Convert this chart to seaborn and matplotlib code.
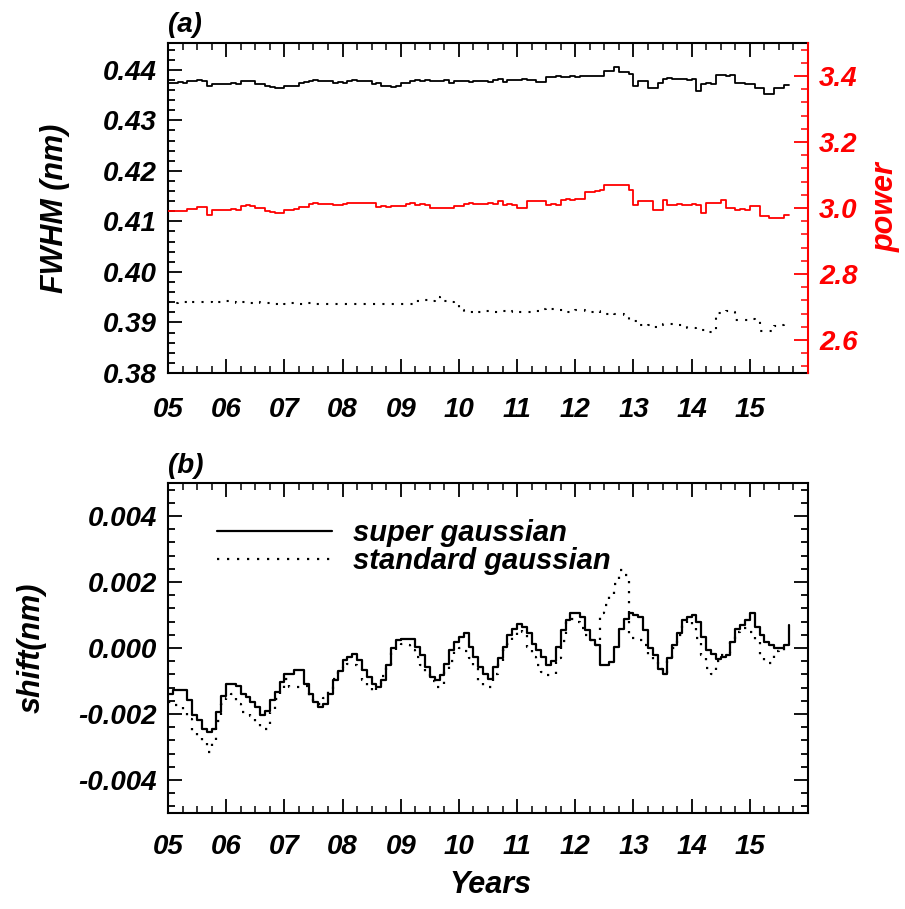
import numpy as np
import pandas as pd
import matplotlib
matplotlib.use("Agg")
import matplotlib.pyplot as plt
import seaborn as sns
from matplotlib.ticker import MultipleLocator

# ---------------- data (monthly, starting Jan 2005) ----------------
start_year = 2005

fwhm_super = [
    0.4374, 0.4374, 0.4375, 0.4374, 0.4378, 0.4378, 0.4379, 0.4378, 0.4367, 0.4372, 0.4372, 0.4372,
    0.4372, 0.4373, 0.4372, 0.4377, 0.4378, 0.4377, 0.4372, 0.4371, 0.4367, 0.4366, 0.4364, 0.4363,
    0.4367, 0.4368, 0.4367, 0.4374, 0.4375, 0.4378, 0.4379, 0.4378, 0.4377, 0.4378, 0.4374, 0.4375,
    0.4374, 0.4378, 0.4379, 0.4378, 0.4377, 0.4378, 0.4372, 0.4373, 0.4367, 0.4368, 0.4366, 0.4367,
    0.4374, 0.4373, 0.4378, 0.4379, 0.4378, 0.4380, 0.4378, 0.4377, 0.4378, 0.4379, 0.4374, 0.4377,
    0.4377, 0.4378, 0.4376, 0.4377, 0.4378, 0.4377, 0.4376, 0.4380, 0.4381, 0.4376, 0.4380, 0.4379,
    0.4380, 0.4381, 0.4380, 0.4379, 0.4376, 0.4375, 0.4385, 0.4386, 0.4387, 0.4385, 0.4386, 0.4387,
    0.4386, 0.4387, 0.4388, 0.4387, 0.4387, 0.4388, 0.4397, 0.4397, 0.4405, 0.4395, 0.4395, 0.4392,
    0.4367, 0.4378, 0.4377, 0.4364, 0.4364, 0.4374, 0.4382, 0.4383, 0.4382, 0.4381, 0.4382, 0.4380,
    0.4382, 0.4359, 0.4372, 0.4373, 0.4372, 0.4389, 0.4390, 0.4388, 0.4389, 0.4374, 0.4374, 0.4371,
    0.4371, 0.4364, 0.4364, 0.4352, 0.4352, 0.4364, 0.4364, 0.4369, 0.4369,
]

fwhm_standard = [
    0.3940, 0.3939, 0.3941, 0.3940, 0.3938, 0.3940, 0.3941, 0.3940, 0.3941, 0.3942, 0.3940, 0.3941,
    0.3942, 0.3940, 0.3939, 0.3940, 0.3941, 0.3939, 0.3940, 0.3939, 0.3938, 0.3938, 0.3937, 0.3938,
    0.3937, 0.3938, 0.3938, 0.3937, 0.3938, 0.3938, 0.3937, 0.3936, 0.3937, 0.3937, 0.3936, 0.3937,
    0.3937, 0.3936, 0.3937, 0.3937, 0.3936, 0.3937, 0.3936, 0.3937, 0.3937, 0.3936, 0.3937, 0.3936,
    0.3937, 0.3936, 0.3937, 0.3943, 0.3943, 0.3944, 0.3943, 0.3950, 0.3945, 0.3943, 0.3941, 0.3935,
    0.3924, 0.3921, 0.3921, 0.3922, 0.3921, 0.3923, 0.3922, 0.3921, 0.3922, 0.3922, 0.3921, 0.3922,
    0.3921, 0.3920, 0.3921, 0.3920, 0.3922, 0.3927, 0.3928, 0.3926, 0.3924, 0.3925, 0.3921, 0.3922,
    0.3925, 0.3924, 0.3923, 0.3921, 0.3923, 0.3918, 0.3917, 0.3919, 0.3917, 0.3916, 0.3914, 0.3905,
    0.3902, 0.3894, 0.3893, 0.3894, 0.3892, 0.3895, 0.3896, 0.3897, 0.3896, 0.3895, 0.3894, 0.3890,
    0.3889, 0.3887, 0.3886, 0.3881, 0.3881, 0.3918, 0.3921, 0.3922, 0.3920, 0.3904, 0.3904, 0.3905,
    0.3906, 0.3904, 0.3884, 0.3883, 0.3884, 0.3893, 0.3895, 0.3896, 0.3895,
]

power = [
    2.990, 2.990, 2.991, 2.990, 2.997, 2.998, 3.003, 3.003, 2.980, 2.995, 2.995, 2.994,
    2.995, 2.996, 2.995, 3.007, 3.008, 3.007, 3.000, 3.000, 2.990, 2.988, 2.985, 2.985,
    2.995, 2.994, 2.996, 3.003, 3.004, 3.013, 3.014, 3.013, 3.012, 3.013, 3.010, 3.010,
    3.011, 3.015, 3.016, 3.015, 3.014, 3.015, 3.015, 3.003, 3.005, 3.004, 3.006, 3.005,
    3.005, 3.013, 3.014, 3.010, 3.011, 3.010, 3.000, 3.001, 2.999, 3.000, 3.001, 3.007,
    3.007, 3.013, 3.014, 3.013, 3.012, 3.013, 3.014, 3.013, 3.020, 3.010, 3.011, 3.010,
    3.000, 3.001, 3.020, 3.021, 3.020, 3.020, 3.010, 3.011, 3.010, 3.025, 3.026, 3.025,
    3.027, 3.028, 3.050, 3.050, 3.051, 3.055, 3.071, 3.070, 3.071, 3.070, 3.071, 3.055,
    3.010, 3.020, 3.021, 3.020, 2.995, 2.995, 3.025, 3.010, 3.010, 3.011, 3.010, 3.010,
    3.011, 3.010, 2.985, 3.015, 3.016, 3.015, 3.025, 3.000, 3.001, 2.995, 2.996, 2.995,
    3.005, 3.005, 2.975, 2.976, 2.970, 2.970, 2.971, 2.978, 2.978,
]

shift_super = [
    -0.00140, -0.00127, -0.00127, -0.00127, -0.00159, -0.00202, -0.00218, -0.00245, -0.00255, -0.00245, -0.00195, -0.00144,
    -0.00108, -0.00108, -0.00115, -0.00139, -0.00149, -0.00164, -0.00180, -0.00202, -0.00190, -0.00159, -0.00134, -0.00103,
    -0.00078, -0.00078, -0.00066, -0.00066, -0.00108, -0.00139, -0.00164, -0.00179, -0.00170, -0.00139, -0.00098, -0.00070,
    -0.00037, -0.00027, -0.00017, -0.00037, -0.00068, -0.00088, -0.00108, -0.00119, -0.00098, -0.00053, 0.00000, 0.00023,
    0.00028, 0.00028, 0.00028, 0.00003, -0.00022, -0.00058, -0.00088, -0.00098, -0.00083, -0.00047, -0.00007, 0.00018,
    0.00033, 0.00044, 0.00003, -0.00027, -0.00058, -0.00078, -0.00093, -0.00058, -0.00030, 0.00003, 0.00039, 0.00059,
    0.00074, 0.00065, 0.00044, 0.00013, -0.00005, -0.00027, -0.00053, -0.00040, 0.00003, 0.00054, 0.00084, 0.00105,
    0.00105, 0.00095, 0.00054, 0.00023, 0.00008, -0.00053, -0.00053, -0.00043, 0.00003, 0.00059, 0.00089, 0.00105,
    0.00100, 0.00095, 0.00054, 0.00000, -0.00022, -0.00063, -0.00078, -0.00030, 0.00010, 0.00044, 0.00084, 0.00095,
    0.00100, 0.00080, 0.00033, -0.00005, -0.00017, -0.00032, -0.00027, -0.00020, 0.00018, 0.00059, 0.00070, 0.00084,
    0.00105, 0.00064, 0.00038, 0.00018, 0.00008, 0.00000, 0.00000, 0.00008, 0.00070,
]

shift_standard = [
    -0.00164, -0.00174, -0.00180, -0.00189, -0.00214, -0.00250, -0.00271, -0.00286, -0.00316, -0.00286, -0.00220, -0.00169,
    -0.00150, -0.00139, -0.00169, -0.00195, -0.00198, -0.00205, -0.00225, -0.00245, -0.00245, -0.00195, -0.00155, -0.00125,
    -0.00095, -0.00119, -0.00119, -0.00119, -0.00115, -0.00145, -0.00164, -0.00170, -0.00150, -0.00130, -0.00095, -0.00060,
    -0.00045, -0.00047, -0.00050, -0.00065, -0.00098, -0.00115, -0.00134, -0.00110, -0.00085, -0.00050, -0.00005, 0.00010,
    0.00013, 0.00008, -0.00005, -0.00027, -0.00050, -0.00073, -0.00100, -0.00119, -0.00119, -0.00070, -0.00040, -0.00005,
    0.00000, -0.00010, -0.00030, -0.00060, -0.00100, -0.00119, -0.00119, -0.00080, -0.00040, -0.00005, 0.00013, 0.00035,
    0.00054, 0.00050, 0.00003, -0.00027, -0.00050, -0.00073, -0.00083, -0.00080, -0.00030, 0.00020, 0.00080, 0.00089,
    0.00080, 0.00060, 0.00040, 0.00023, 0.00010, 0.00105, 0.00130, 0.00160, 0.00195, 0.00236, 0.00220, 0.00030,
    0.00030, 0.00025, 0.00010, -0.00020, -0.00040, -0.00065, -0.00075, -0.00040, 0.00000, 0.00040, 0.00075, 0.00085,
    0.00069, 0.00030, -0.00020, -0.00060, -0.00080, -0.00040, -0.00020, -0.00015, 0.00020, 0.00050, 0.00060, 0.00060,
    0.00050, 0.00020, -0.00020, -0.00040, -0.00045, -0.00010, 0.00000, -0.00010, -0.00010,
]

year_ticks = [2005, 2006, 2007, 2008, 2009, 2010, 2011, 2012, 2013, 2014, 2015]
year_labels = ["05", "06", "07", "08", "09", "10", "11", "12", "13", "14", "15"]
fwhm_ticks = [0.38, 0.39, 0.40, 0.41, 0.42, 0.43, 0.44]
fwhm_labels = ["0.38", "0.39", "0.40", "0.41", "0.42", "0.43", "0.44"]
power_ticks = [2.6, 2.8, 3.0, 3.2, 3.4]
power_labels = ["2.6", "2.8", "3.0", "3.2", "3.4"]
shift_ticks = [-0.004, -0.002, 0.0, 0.002, 0.004]
shift_labels = ["-0.004", "-0.002", "0.000", "0.002", "0.004"]
legend_labels = ["super gaussian", "standard gaussian"]

# ---------------- style ----------------
sns.set_style("ticks")
plt.rcParams["font.family"] = ["Liberation Sans", "DejaVu Sans"]
plt.rcParams["font.style"] = "italic"
plt.rcParams["font.weight"] = "bold"
plt.rcParams["axes.unicode_minus"] = False
plt.rcParams["text.color"] = "black"
plt.rcParams["axes.labelcolor"] = "black"
plt.rcParams["xtick.color"] = "black"
plt.rcParams["ytick.color"] = "black"
plt.rcParams["axes.edgecolor"] = "black"

months = np.arange(len(shift_super))
time = start_year + months / 12.0
df = pd.DataFrame({
    "time": time,
    "fwhm_super": fwhm_super,
    "fwhm_standard": fwhm_standard,
    "power": power,
    "shift_super": shift_super,
    "shift_standard": shift_standard,
})

W, H = 905, 909
fig = plt.figure(figsize=(W / 100, H / 100), dpi=100)
ax1 = fig.add_axes([168 / W, 1 - 373 / H, 640 / W, 330 / H])
ax2 = fig.add_axes([168 / W, 1 - 813 / H, 640 / W, 330 / H])
ax1r = ax1.twinx()

DOT = (0, (1, 3.5))

sns.lineplot(data=df, x="time", y="fwhm_super", ax=ax1, color="black", lw=1.3,
             drawstyle="steps-post", estimator=None)
sns.lineplot(data=df, x="time", y="fwhm_standard", ax=ax1, color="black", lw=1.5,
             drawstyle="steps-post", estimator=None, linestyle=DOT)
sns.lineplot(data=df, x="time", y="power", ax=ax1r, color="red", lw=1.3,
             drawstyle="steps-post", estimator=None)

sns.lineplot(data=df, x="time", y="shift_super", ax=ax2, color="black", lw=1.6,
             drawstyle="steps-post", estimator=None, label=legend_labels[0])
sns.lineplot(data=df, x="time", y="shift_standard", ax=ax2, color="black", lw=1.6,
             drawstyle="steps-post", estimator=None, linestyle=DOT, label=legend_labels[1])

TICK_FS = 20
LABEL_FS = 22

for ax in (ax1, ax2):
    ax.set_xlim(2005, 2016)
    ax.set_xticks(year_ticks)
    ax.set_xticklabels(year_labels)
    ax.xaxis.set_minor_locator(MultipleLocator(0.25))
    ax.set_xlabel("")
    ax.set_ylabel("")
    for s in ax.spines.values():
        s.set_linewidth(1.5)
        s.set_color("black")
    ax.tick_params(axis="x", which="both", direction="in", top=True, bottom=True,
                   labelsize=TICK_FS, pad=15, width=1.3, colors="black")
    ax.tick_params(which="major", length=10)
    ax.tick_params(which="minor", length=5, width=1.1)

ax1.set_ylim(0.38, 0.4453)
ax1.set_yticks(fwhm_ticks)
ax1.set_yticklabels(fwhm_labels)
ax1.yaxis.set_minor_locator(MultipleLocator(0.002))
ax1.tick_params(axis="y", which="both", direction="in", left=True, right=False,
                labelsize=TICK_FS, pad=8, width=1.3, colors="black")
ax1.tick_params(axis="x", pad=17)
ax1.spines["right"].set_visible(False)

ax1r.set_ylim(2.5, 3.5)
ax1r.set_yticks(power_ticks)
ax1r.set_yticklabels(power_labels)
ax1r.yaxis.set_minor_locator(MultipleLocator(0.04))
ax1r.set_ylabel("")
for k in ("left", "top", "bottom"):
    ax1r.spines[k].set_visible(False)
ax1r.spines["right"].set_color("red")
ax1r.spines["right"].set_linewidth(1.5)
ax1r.tick_params(axis="y", which="both", direction="in", colors="red",
                 labelcolor="red", labelsize=TICK_FS, pad=8, width=1.3)
ax1r.tick_params(which="major", length=10)
ax1r.tick_params(which="minor", length=5, width=1.1)

ax2.set_ylim(-0.005, 0.005)
ax2.set_yticks(shift_ticks)
ax2.set_yticklabels(shift_labels)
ax2.yaxis.set_minor_locator(MultipleLocator(0.0004))
ax2.tick_params(axis="y", which="both", direction="in", left=True, right=True,
                labelsize=TICK_FS, pad=8, width=1.3, colors="black")

leg = ax2.legend(loc="upper left", bbox_to_anchor=(0.0766, 0.89), frameon=False,
                 fontsize=21, handlelength=3.95, handletextpad=0.7,
                 borderpad=0, borderaxespad=0, labelspacing=0.0)
for t in leg.get_texts():
    t.set_color("black")

fig.text(55 / W, 1 - 208 / H, "FWHM (nm)", rotation=90, ha="center", va="center",
         fontsize=LABEL_FS, color="black")
fig.text(886 / W, 1 - 207 / H, "power", rotation=90, ha="center", va="center",
         fontsize=LABEL_FS, color="red")
fig.text(32 / W, 1 - 648 / H, "shift(nm)", rotation=90, ha="center", va="center",
         fontsize=LABEL_FS, color="black")
fig.text(490 / W, 1 - 885 / H, "Years", ha="center", va="center", fontsize=LABEL_FS, color="black")
fig.text(168 / W, 1 - 25 / H, "(a)", ha="left", va="center", fontsize=20, color="black")
fig.text(168 / W, 1 - 466 / H, "(b)", ha="left", va="center", fontsize=20, color="black")

fig.savefig("out.png", dpi=100, facecolor="white")
